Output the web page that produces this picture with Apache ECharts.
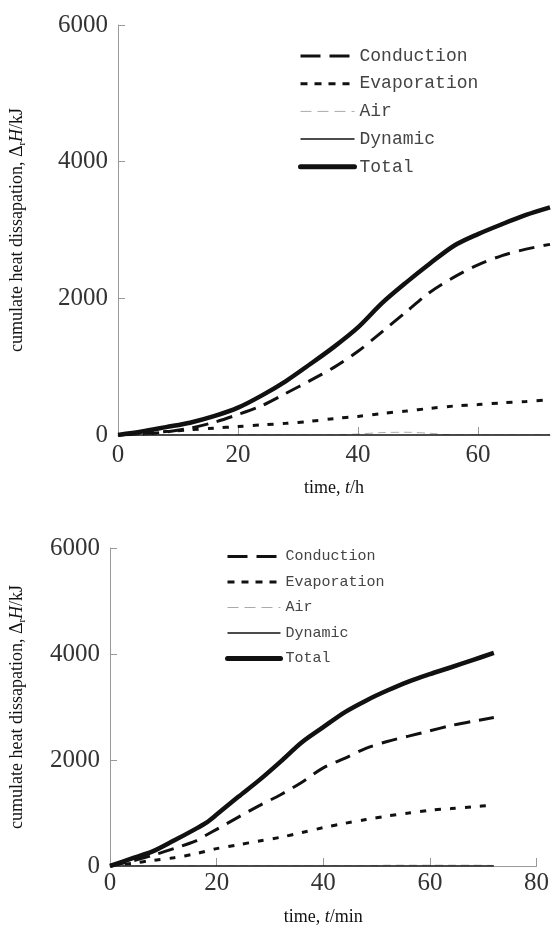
<!DOCTYPE html>
<html>
<head>
<meta charset="utf-8">
<script src="https://cdn.jsdelivr.net/npm/echarts@6/dist/echarts.min.js"></script>
<style>
html,body{margin:0;padding:0;background:#fff;}
#main{width:552px;height:929px;}
</style>
</head>
<body>
<div id="main"></div>
<script>
// 上图：时间/h
var hoursTop = [0, 4, 8, 12, 16, 20, 24, 28, 32, 36, 40, 44, 48, 52, 56, 60, 64, 68, 72];
var conductionTop = [0, 15, 45, 100, 185, 300, 430, 610, 795, 990, 1225, 1510, 1800, 2090, 2310, 2490, 2625, 2720, 2790];
var evaporationTop = [0, 20, 50, 76, 100, 124, 148, 171, 200, 240, 272, 315, 350, 390, 424, 445, 470, 490, 515];
var airTop = [0, 0, 0, 0, 0, 0, 0, 0, 0, 0, 15, 35, 40, 25, 0, 0, 0, 0, 0];
var dynamicTop = [0, 0, 0, 0, 0, 0, 0, 0, 0, 0, 0, 0, 0, 0, 0, 0, 0, 0, 0];
var totalTop = [0, 50, 115, 180, 275, 400, 580, 790, 1035, 1290, 1575, 1930, 2230, 2510, 2770, 2940, 3085, 3220, 3330];

// 下图：时间/min
var minsBottom = [0, 4, 8, 12, 16, 18, 20, 24, 28, 32, 36, 40, 44, 48, 52, 56, 60, 64, 68, 72];
var conductionBottom = [0, 90, 200, 330, 470, 580, 692, 917, 1140, 1345, 1582, 1851, 2031, 2220, 2350, 2450, 2550, 2650, 2730, 2800];
var evaporationBottom = [0, 50, 105, 155, 230, 280, 328, 400, 472, 542, 631, 724, 804, 876, 943, 998, 1052, 1084, 1116, 1148];
var airBottom = [0, 0, 0, 0, 0, 0, 0, 0, 0, 0, 0, 0, 0, 0, 15, 15, 15, 15, 15, 10];
var dynamicBottom = [0, 0, 0, 0, 0, 0, 0, 0, 0, 0, 0, 0, 0, 0, 0, 0, 0, 0, 0, 0];
var totalBottom = [0, 139, 275, 480, 696, 812, 970, 1300, 1620, 1970, 2335, 2620, 2900, 3120, 3310, 3480, 3620, 3750, 3885, 4020];

var seriesNames = ['Conduction', 'Evaporation', 'Air', 'Dynamic', 'Total'];

function pairs(xs, ys) {
    var out = [];
    for (var i = 0; i < xs.length; i++) {
        out.push([xs[i], ys[i]]);
    }
    return out;
}

// 线型
var styles = {
    Conduction: { color: '#111', width: 3, type: [16, 9] },
    Evaporation: { color: '#111', width: 3, type: [6, 9] },
    Air: { color: '#aaa', width: 1, type: [8, 5] },
    Dynamic: { color: '#111', width: 1.5, type: 'solid' },
    Total: { color: '#111', width: 4.5, type: 'solid' }
};
var legendStyles = {
    Conduction: { color: '#111', width: 3, type: [20, 9] },
    Evaporation: { color: '#111', width: 3, type: [7, 7] },
    Air: { color: '#aaa', width: 1, type: [11, 6] },
    Dynamic: { color: '#111', width: 1.5, type: 'solid' },
    Total: { color: '#111', width: 5, type: 'solid', cap: 'round' }
};

function makeSeries(idx, xs, lists) {
    var arr = [];
    for (var i = 0; i < seriesNames.length; i++) {
        var n = seriesNames[i];
        arr.push({
            name: n,
            type: 'line',
            xAxisIndex: idx,
            yAxisIndex: idx,
            symbol: 'none',
            smooth: 0.3,
            z: n === 'Total' ? 5 : 3,
            itemStyle: { color: styles[n].color },
            lineStyle: styles[n],
            data: pairs(xs, lists[i])
        });
    }
    return arr;
}

function makeLegend(left, top, fontSize, lineH, gap, width) {
    var data = [];
    for (var i = 0; i < seriesNames.length; i++) {
        data.push({ name: seriesNames[i], lineStyle: legendStyles[seriesNames[i]] });
    }
    return {
        orient: 'vertical',
        left: left,
        top: top,
        padding: 0,
        itemWidth: width,
        itemHeight: 12,
        itemGap: gap,
        selectedMode: false,
        itemStyle: { opacity: 0 },
        textStyle: { fontFamily: 'Liberation Mono', fontSize: fontSize, lineHeight: lineH, color: '#444' },
        data: data
    };
}

var nameRich = function (fs) {
    return {
        t: { fontFamily: 'Liberation Serif', fontSize: fs, color: '#111', lineHeight: fs + 4 },
        i: { fontFamily: 'Liberation Serif', fontSize: fs, fontStyle: 'italic', color: '#111', lineHeight: fs + 4 },
        s: { fontFamily: 'Liberation Serif', fontSize: fs * 0.6, color: '#111', verticalAlign: 'bottom', lineHeight: 10 }
    };
};

function plainNum(v) {
    return String(v);
}

function makeY(idx, gap) {
    return {
        type: 'value',
        gridIndex: idx,
        min: 0,
        max: 6000,
        interval: 2000,
        name: '{t|cumulate heat dissapation, Δ}{s|r}{i|H}{t|/kJ}',
        nameLocation: 'middle',
        nameRotate: 90,
        nameGap: gap,
        nameTextStyle: { rich: nameRich(18) },
        axisLine: { show: true, lineStyle: { color: '#999', width: 1 } },
        axisTick: { show: true, inside: true, length: 7, lineStyle: { color: '#999' } },
        axisLabel: { margin: 10, formatter: plainNum, fontFamily: 'Liberation Serif', fontSize: 25, color: '#333' },
        splitLine: { show: false }
    };
}

var myChart = echarts.init(document.getElementById('main'));
var option = {
    animation: false,
    backgroundColor: '#fff',
    grid: [
        { left: 114, right: 2, top: 25, bottom: 494 },
        { left: 107, right: 14, top: 548, bottom: 63 }
    ],
    legend: [
        makeLegend(298, 46, 18, 20, 7.7, 54),
        makeLegend(225, 548, 15, 17, 8.5, 53)
    ],
    xAxis: [
        {
            type: 'value', gridIndex: 0, min: 0, max: 72, interval: 20,
            name: '{t|time, }{i|t}{t|/h}',
            nameLocation: 'middle', nameGap: 42,
            nameTextStyle: { rich: nameRich(18) },
            axisLine: { lineStyle: { color: '#999', width: 1 } },
            axisTick: { inside: true, length: 8, lineStyle: { color: '#999' } },
            axisLabel: { margin: 8, showMaxLabel: false, formatter: plainNum, fontFamily: 'Liberation Serif', fontSize: 25, color: '#333' },
            splitLine: { show: false }
        },
        {
            type: 'value', gridIndex: 1, min: 0, max: 80, interval: 20,
            name: '{t|time, }{i|t}{t|/min}',
            nameLocation: 'middle', nameGap: 40,
            nameTextStyle: { rich: nameRich(18) },
            axisLine: { lineStyle: { color: '#999', width: 1 } },
            axisTick: { inside: true, length: 8, lineStyle: { color: '#999' } },
            axisLabel: { margin: 5, formatter: plainNum, fontFamily: 'Liberation Serif', fontSize: 25, color: '#333' },
            splitLine: { show: false }
        }
    ],
    yAxis: [makeY(0, 90), makeY(1, 82)],
    series: makeSeries(0, hoursTop, [conductionTop, evaporationTop, airTop, dynamicTop, totalTop])
        .concat(makeSeries(1, minsBottom, [conductionBottom, evaporationBottom, airBottom, dynamicBottom, totalBottom]))
};
myChart.setOption(option);

window.onresize = function () {
    myChart.resize();
};
</script>
</body>
</html>
